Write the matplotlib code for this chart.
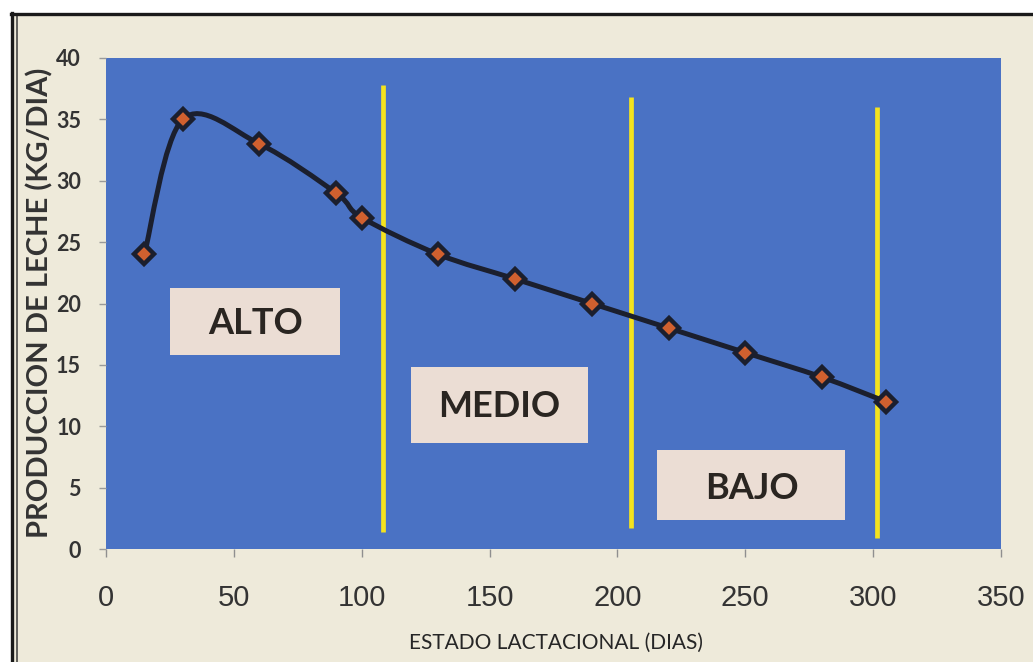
import matplotlib
matplotlib.use("Agg")
import matplotlib.pyplot as plt
from matplotlib.patches import Rectangle, PathPatch
from matplotlib.path import Path
from matplotlib.lines import Line2D

# Lactation curve: days in milk vs. milk yield (kg/day)
dias = [15, 30, 60, 90, 100, 130, 160, 190, 220, 250, 280, 305]
produccion = [24, 35, 33, 29, 27, 24, 22, 20, 18, 16, 14, 12]

# Stage boundaries (days) and their drawn extent (kg/day)
limites_x = [108.5, 205.5, 301.5]
limites_sup = [37.8, 36.8, 36.0]
limites_inf = [1.4, 1.7, 0.9]

# Stage labels
etapas = ["ALTO", "MEDIO", "BAJO"]

x_ticks = [0, 50, 100, 150, 200, 250, 300, 350]
y_ticks = [0, 5, 10, 15, 20, 25, 30, 35, 40]

W, H = 1033, 662
fig = plt.figure(figsize=(W / 100, H / 100), dpi=100)
fig.patch.set_facecolor("white")

# cream panel with a black frame on the top and left
fig.add_artist(Rectangle((12 / W, 0), 1, 1 - 14 / H, transform=fig.transFigure,
                         facecolor="#EEEADA", edgecolor="none", zorder=-2))
fig.add_artist(Line2D([12 / W, 12 / W], [0, 1 - 13 / H], transform=fig.transFigure,
                      color="#1a1a1a", lw=2.4, zorder=-1))
fig.add_artist(Line2D([17 / W, 17 / W], [0, 1 - 16 / H], transform=fig.transFigure,
                      color="#3a3a3a", lw=1.1, zorder=-1))
fig.add_artist(Line2D([11 / W, 1], [1 - 14 / H, 1 - 14 / H], transform=fig.transFigure,
                      color="#1a1a1a", lw=2.4, zorder=-1))

ax = fig.add_axes([106 / W, 1 - 549 / H, (1001 - 106) / W, (549 - 58) / H])
ax.set_facecolor("#4A72C4")
ax.set_xlim(0, 350)
ax.set_ylim(0, 40)
for s in ax.spines.values():
    s.set_visible(False)

ax.set_xticks(x_ticks)
ax.set_yticks(y_ticks)
ax.tick_params(axis="x", length=6, width=1, color="#8f8f8f", pad=19,
               labelsize=21, labelcolor="#333333")
ax.tick_params(axis="y", length=5, width=1, color="#9a9a9a", pad=13,
               labelsize=15.5, labelcolor="#333333")
for lab in ax.get_xticklabels():
    lab.set_family("Liberation Sans")
for lab in ax.get_yticklabels():
    lab.set_family("Lato")
    lab.set_fontweight("bold")

# stage boundaries
ax.vlines(limites_x, limites_inf, limites_sup, colors="#F4E31E", lw=3.4, zorder=3)

# smoothed curve through the points (cardinal spline as cubic Béziers)
pts = list(zip(dias, produccion))
n = len(pts)
verts = [pts[0]]
codes = [Path.MOVETO]
for i in range(n - 1):
    p0 = pts[i - 1] if i > 0 else pts[i]
    p1 = pts[i]
    p2 = pts[i + 1]
    p3 = pts[i + 2] if i + 2 < n else pts[i + 1]
    c1 = (p1[0] + (p2[0] - p0[0]) / 6, p1[1] + (p2[1] - p0[1]) / 6)
    c2 = (p2[0] - (p3[0] - p1[0]) / 6, p2[1] - (p3[1] - p1[1]) / 6)
    verts += [c1, c2, p2]
    codes += [Path.CURVE4] * 3
ax.add_patch(PathPatch(Path(verts, codes), facecolor="none", edgecolor="#1B1F2E",
                       lw=3.6, capstyle="round", joinstyle="round", zorder=4))
ax.plot(dias, produccion, linestyle="none", marker="D", markersize=10,
        markerfacecolor="#D0602F", markeredgecolor="#1B1F2E", markeredgewidth=3.2,
        zorder=5)

# stage label boxes: (x0, y0, x1, y1) in data units, text centre
cajas = [
    ((25.0, 15.8, 91.5, 21.3), (58.5, 18.4)),
    ((119.3, 8.6, 188.5, 14.8), (153.9, 11.6)),
    ((215.5, 2.4, 289.0, 8.1), (252.5, 4.9)),
]
for nombre, ((x0, y0, x1, y1), (tx, ty)) in zip(etapas, cajas):
    ax.add_patch(Rectangle((x0, y0), x1 - x0, y1 - y0, facecolor="#EBDDD4",
                           edgecolor="none", zorder=6))
    ax.text(tx, ty, nombre, ha="center", va="center", fontsize=26,
            family="Lato", fontweight="bold", color="#2A2521", zorder=7)

fig.text(40 / W, 1 - 303 / H, "PRODUCCION DE LECHE (KG/DIA)", rotation=90,
         ha="center", va="center", fontsize=21, family="Lato", fontweight="bold",
         color="#333333")
fig.text(556 / W, 1 - 643 / H, "ESTADO LACTACIONAL (DIAS)", ha="center",
         va="center", fontsize=15, family="Lato", color="#262626")

fig.savefig("out.png", dpi=100, facecolor=fig.get_facecolor())
